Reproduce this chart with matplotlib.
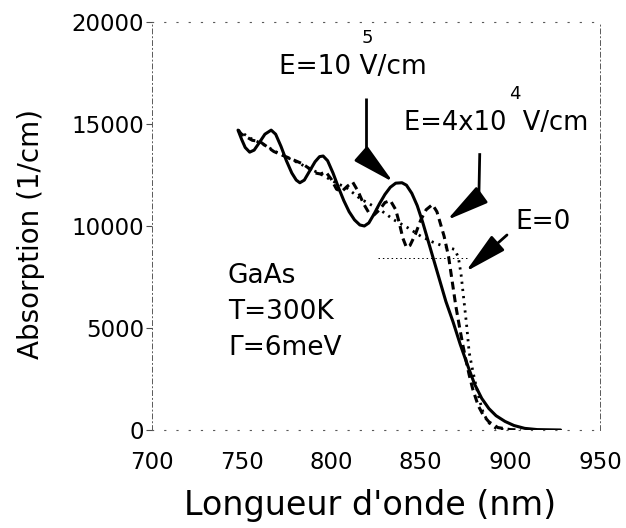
import matplotlib
matplotlib.use("Agg")
import matplotlib.pyplot as plt

# E = 10^5 V/cm (solid)
wl_e5 = [748, 750, 752, 754.5, 757, 760, 763, 766.5, 769, 772, 775, 778, 780.5, 782.5,
         785, 788, 791, 793.5, 795.5, 798, 801, 804, 807, 810, 813, 816, 818.5, 821,
         824, 827, 830, 833, 836, 839.5, 842, 845, 848, 851, 854, 857, 860, 864, 868,
         872, 876, 880, 884, 888, 892, 897, 902, 908, 915, 928]
abs_e5 = [14700, 14250, 13850, 13620, 13720, 14100, 14500, 14700, 14500, 13900, 13200,
          12600, 12250, 12120, 12250, 12700, 13150, 13400, 13430, 13200, 12600, 11900,
          11250, 10700, 10300, 10050, 10000, 10150, 10600, 11100, 11550, 11900, 12100,
          12120, 12000, 11600, 11000, 10200, 9300, 8400, 7500, 6300, 5300, 4200, 3200,
          2250, 1550, 1050, 700, 420, 220, 80, 20, 0]

# E = 4x10^4 V/cm (dashed)
wl_e4 = [748, 750, 753, 756, 760, 764, 768, 772, 776, 780, 784, 788, 791, 794, 797, 800,
         803, 806, 809, 812, 815, 818, 821, 824, 827, 830, 833, 836, 838, 840, 842, 844,
         847, 850, 853, 856.5, 859, 861, 863, 865.5, 867.5, 869.5, 871.5, 873.5, 875,
         877, 879, 882, 885, 888, 893, 900, 906]
abs_e4 = [14700, 14500, 14350, 14200, 14150, 13900, 13650, 13500, 13350, 13200, 13050,
          12800, 12600, 12550, 12650, 12300, 11800, 11700, 11950, 12150, 11700, 11100,
          10650, 10550, 10800, 11150, 11250, 10800, 10150, 9400, 8950, 9050, 9600, 10300,
          10800, 11050, 10700, 10100, 9500, 8500, 7300, 6100, 5100, 4150, 3500, 2700,
          2000, 1200, 700, 400, 120, 20, 0]

# E = 0 (dotted)
wl_e0 = [748, 755, 762, 770, 778, 786, 794, 802, 809, 816, 822, 828, 835, 843, 850, 857,
         863, 869, 871, 872.5, 874, 875.5, 877, 879, 881, 883, 885, 888, 892, 898]
abs_e0 = [14700, 14300, 14000, 13600, 13250, 12900, 12550, 12150, 11850, 11350, 11050,
          10750, 10300, 9900, 9500, 9200, 9000, 8850, 8450, 7600, 6400, 5200, 3800, 2900,
          2100, 1400, 800, 350, 80, 0]

# thin horizontal dotted guide
guide_wl = [826, 876]
guide_abs = 8440

x_ticks = [700, 750, 800, 850, 900, 950]
y_ticks = [0, 5000, 10000, 15000, 20000]

fig = plt.figure(figsize=(6.26, 5.28), dpi=100)
ax = fig.add_axes([152 / 626, 1 - 430 / 528, 448 / 626, 408 / 528])

ax.plot(wl_e5, abs_e5, color="black", lw=2.2, solid_capstyle="round")
ax.plot(wl_e4, abs_e4, color="black", lw=2.2, dashes=(2.6, 1.6))
ax.plot(wl_e0, abs_e0, color="black", lw=2.0, dashes=(0.8, 1.8))
ax.hlines(guide_abs, guide_wl[0], guide_wl[1], color="black", lw=0.7, linestyles=(0, (1.5, 3)))

ax.set_xlim(700, 950)
ax.set_ylim(0, 20000)
ax.set_xticks(x_ticks)
ax.set_yticks(y_ticks)
ax.tick_params(axis="x", length=0, pad=15, labelsize=16.5)
ax.tick_params(axis="y", length=4, width=0.8, pad=1.5, labelsize=16.5, color="0.3")

for side in ["left", "right"]:
    ax.spines[side].set_linestyle((0, (5, 3, 1, 3)))
    ax.spines[side].set_linewidth(0.7)
    ax.spines[side].set_color("0.35")
for side in ["top", "bottom"]:
    ax.spines[side].set_linestyle((0, (1, 10)))
    ax.spines[side].set_linewidth(0.8)
    ax.spines[side].set_color("0.35")

ax.set_xlabel("Longueur d'onde (nm)", fontsize=24)
ax.xaxis.set_label_coords(0.4866, -0.145)
ax.set_ylabel("Absorption (1/cm)", fontsize=20)
ax.yaxis.set_label_coords(-0.239, 0.48)

# labels
ax.text(770.8, 17810, "E=10 V/cm", fontsize=19, va="center", ha="left")
ax.text(820.2, 19200, "5", fontsize=13, va="center", ha="center")
ax.text(840.7, 15070, "E=4x10  V/cm", fontsize=18.5, va="center", ha="left")
ax.text(902.5, 16450, "4", fontsize=13, va="center", ha="center")
ax.text(903, 10220, "E=0", fontsize=19, va="center", ha="left")
ax.text(742.4, 7550, "GaAs", fontsize=19, va="center", ha="left")
ax.text(742.4, 5780, "T=300K", fontsize=19, va="center", ha="left")
ax.text(742.4, 4020, "Γ=6meV", fontsize=19, va="center", ha="left")

# arrows
arrow = dict(arrowstyle="-|>,head_length=1.3,head_width=0.3", color="black",
             lw=2.0, mutation_scale=20, shrinkA=0, shrinkB=0)
ax.plot([819.4, 819.4], [16270, 13330], color="black", lw=2.0, solid_capstyle="butt")
ax.annotate("", xy=(834.6, 12150), xytext=(819.4, 13330), arrowprops=arrow)
ax.plot([882.9, 882.4], [13570, 11420], color="black", lw=2.0, solid_capstyle="butt")
ax.annotate("", xy=(864.6, 10290), xytext=(882.4, 11420), arrowprops=arrow)
ax.annotate("", xy=(875.0, 7760), xytext=(898.1, 9560), arrowprops=arrow)

fig.savefig("out.png", dpi=100)
